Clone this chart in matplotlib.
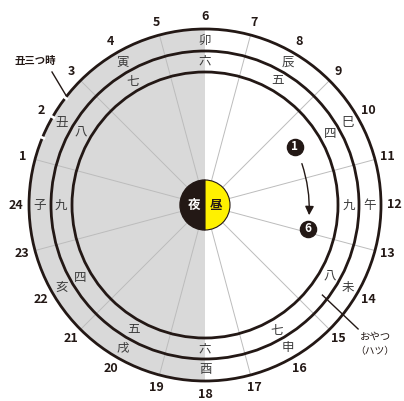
import numpy as np
import matplotlib
matplotlib.use("Agg")
import matplotlib.pyplot as plt
from matplotlib.patches import Circle, Wedge, FancyArrowPatch

plt.rcParams['font.family'] = ['Noto Sans CJK JP', 'DejaVu Sans']

# data
hours = list(range(1, 25))
line_hours = [1, 3, 5, 7, 9, 11, 13, 15, 17, 19, 21, 23]
branch_hours = [24, 2, 4, 6, 8, 10, 12, 14, 16, 18, 20, 22]
branches = ['子', '丑', '寅', '卯', '辰', '巳', '午', '未', '申', '酉', '戌', '亥']
counts = ['九', '八', '七', '六', '五', '四', '九', '八', '七', '六', '五', '四']
ushimitsu_gaps = [1.5, 2.0, 2.5]

DARK = '#231815'
R_OUT, R_MID, R_IN, R_SUN = 176, 154, 133, 25


def pos(h, r):
    t = np.deg2rad((h - 6) * 15)
    return r * np.sin(t), r * np.cos(t)


fig = plt.figure(figsize=(4.04, 4.01), dpi=100)
ax = fig.add_axes([0, 0, 1, 1])
ax.set_xlim(-205, 199)
ax.set_ylim(-196, 205)
ax.set_aspect('equal')
ax.axis('off')

# night half
ax.add_patch(Wedge((0, 0), R_OUT, 90, 270, color='#d9d9d9', lw=0, zorder=0))

# spokes
for h in line_hours:
    x0, y0 = pos(h, R_SUN)
    x1, y1 = pos(h, R_OUT)
    ax.plot([x0, x1], [y0, y1], color='#bcbcbc', lw=0.7, zorder=1)

# rings
for r in [R_OUT, R_MID, R_IN]:
    ax.add_patch(Circle((0, 0), r, fill=False, ec=DARK, lw=2.0, zorder=2))

# 丑三つ breaks
for h in ushimitsu_gaps:
    x0, y0 = pos(h, R_OUT - 3)
    x1, y1 = pos(h, R_OUT + 3)
    ax.plot([x0, x1], [y0, y1], color='white', lw=2.0, zorder=3,
            solid_capstyle='butt')

# hour numbers
for h in hours:
    x, y = pos(h, 189)
    ax.text(x, y, str(h), ha='center', va='center', fontsize=9,
            fontweight='bold', color=DARK)

# branches and counts
for h, b, c in zip(branch_hours, branches, counts):
    x, y = pos(h, 165)
    ax.text(x, y, b, ha='center', va='center', fontsize=9, color='#3c3c3c')
    x, y = pos(h, 144)
    ax.text(x, y, c, ha='center', va='center', fontsize=9, color='#3c3c3c')

# centre disc
ax.add_patch(Wedge((0, 0), R_SUN, 90, 270, color=DARK, zorder=4))
ax.add_patch(Wedge((0, 0), R_SUN, -90, 90, fc='#fff100', ec=DARK, lw=0.8,
                   zorder=4))
ax.text(-11, 0, '夜', ha='center', va='center', fontsize=9,
        fontweight='bold', color='white', zorder=5)
ax.text(11, 0, '昼', ha='center', va='center', fontsize=9,
        fontweight='bold', color=DARK, zorder=5)

# 丑三つ時 callout
x, y = pos(2.55, R_OUT + 1)
ax.plot([-153, x], [133, y], color=DARK, lw=1.0)
ax.text(-170, 144, '丑三つ時', ha='center', va='center', fontsize=7.5,
        fontweight='bold', color=DARK)

# おやつ callout
x0, y0 = pos(14.5, 148)
x1, y1 = pos(14.6, 197)
ax.plot([x0, x1], [y0, y1], color=DARK, lw=1.0)
ax.text(170, -132, 'おやつ', ha='center', va='center', fontsize=7.5, color=DARK)
ax.text(170, -146, '（ハツ）', ha='center', va='center', fontsize=7, color=DARK)

# circled 1 -> 6
for (cx, cy), lab in [((90, 58), '1'), ((103, -24), '6')]:
    ax.scatter([cx], [cy], s=135, color=DARK, zorder=6)
    ax.text(cx, cy, lab, ha='center', va='center', fontsize=8.5,
            fontweight='bold', color='white', zorder=7)
ax.add_patch(FancyArrowPatch((96, 44), (104, -13), arrowstyle='-|>',
                             mutation_scale=13, connectionstyle='arc3,rad=-0.1',
                             color=DARK, lw=1.0, zorder=6))

fig.savefig('out.png', dpi=100)
